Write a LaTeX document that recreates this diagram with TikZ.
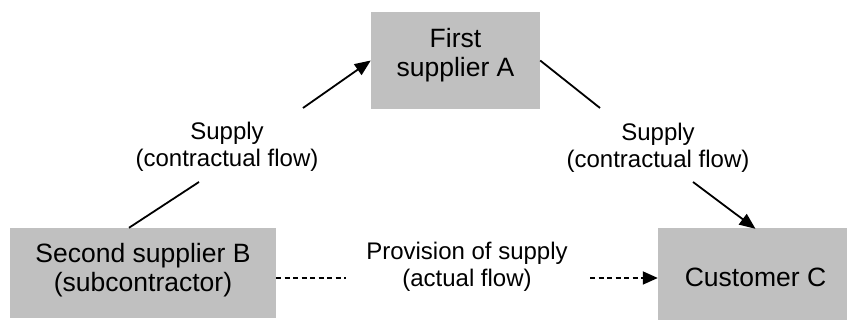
\documentclass[tikz,border=0pt]{standalone}
\usepackage{fontspec}
\setmainfont{Liberation Sans}
\usetikzlibrary{arrows.meta}
\begin{document}
\begin{tikzpicture}[x=1pt,y=1pt,
  box/.style={fill=boxgray, draw=none, inner sep=0pt},
  boxtxt/.style={align=center, inner sep=0pt, font=\fontsize{26.5}{29.5}\selectfont},
  lbl/.style={align=center, inner sep=0pt, font=\fontsize{24}{27}\selectfont},
  flow/.style={line width=1.8pt},
  tip/.style={-{Triangle[length=16pt,width=13pt]}},
  actual/.style={line width=1.8pt, dash pattern=on 5pt off 3.5pt}]
\definecolor{boxgray}{RGB}{192,192,192}
\useasboundingbox (0,0) rectangle (847,320);
\clip (0,0) rectangle (847,320);
\node[box, minimum width=169pt, minimum height=97pt] (A) at (455.5,259.5) {};
\node[box, minimum width=266pt, minimum height=90pt] (B) at (143,47) {};
\node[box, minimum width=195pt, minimum height=102pt] (C) at (755.5,41) {};
\node[boxtxt] (At) at (455.5,265) {First\\supplier A};
\node[boxtxt] (Bt) at (143,50) {Second supplier B\\(subcontractor)};
\node[boxtxt] (Ct) at (755.5,42.5) {Customer C};
\node[lbl] (L1) at (227,173) {Supply\\(contractual flow)};
\node[lbl] (L2) at (658,172) {Supply\\(contractual flow)};
\node[lbl] (L3) at (467,53) {Provision of supply\\(actual flow)};
\coordinate (l1a) at (199,138);
\coordinate (l1b) at (303,212);
\coordinate (r1a) at (600,212);
\coordinate (r1b) at (693,138);
\coordinate (b1) at (346,42);
\coordinate (b2) at (590,42);
\draw[flow] ([xshift=-14pt]B.north) -- (l1a);
\draw[flow, tip] (l1b) -- (A.west);
\draw[flow] (A.east) -- (r1a);
\draw[flow, tip] (r1b) -- ([yshift=-1pt]C.north);
\draw[actual] ([yshift=-5pt]B.east) -- (b1);
\draw[actual, -{Triangle[length=15pt,width=13pt]}] (b2) -- ([yshift=1pt]C.west);
\end{tikzpicture}
\end{document}
